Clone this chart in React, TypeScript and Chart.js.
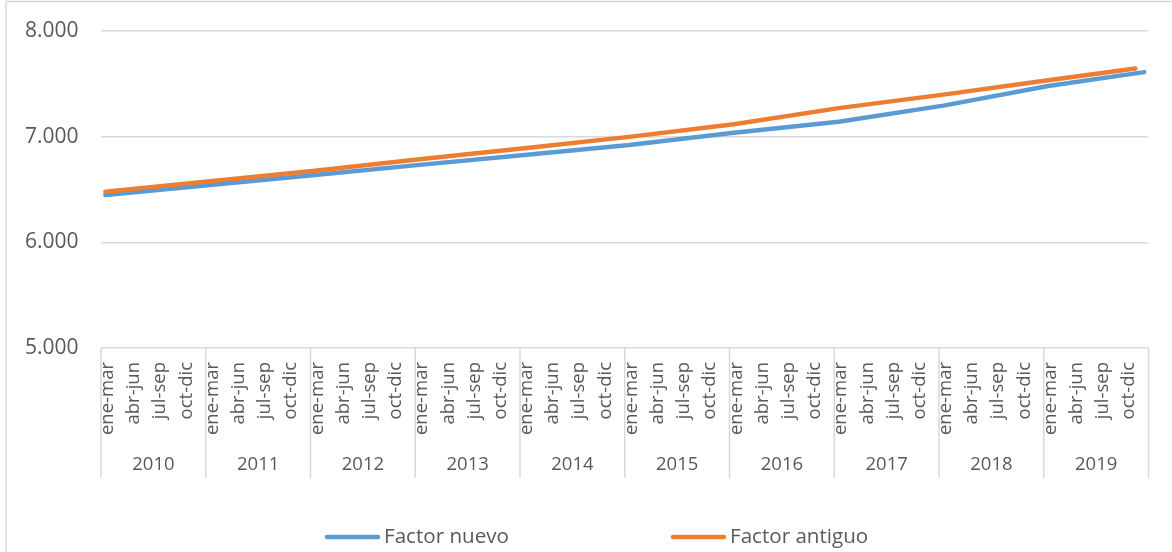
import React, { useEffect, useRef } from "react";
import { Chart, registerables } from "chart.js";

Chart.register(...registerables);

// ---- data ----
const years = ["2010", "2011", "2012", "2013", "2014", "2015", "2016", "2017", "2018", "2019"];
const quarters = ["ene-mar", "abr-jun", "jul-sep", "oct-dic"];
const yTicks = [5000, 6000, 7000, 8000];

// month index (0 = enero 2010) of each sampled point
const monthsNuevo = [0, 12, 24, 36, 48, 60, 72, 84, 96, 108, 119];
const factorNuevo = [6447, 6543, 6638, 6733, 6827, 6921, 7038, 7142, 7294, 7480, 7611];

const monthsAntiguo = [0, 12, 24, 36, 48, 60, 72, 84, 96, 108, 118];
const factorAntiguo = [6479, 6578, 6678, 6787, 6891, 6998, 7118, 7270, 7398, 7533, 7645];

const seriesNames = ["Factor nuevo", "Factor antiguo"];
const seriesColors = ["#5B9BD5", "#ED7D31"];

const FONT = "'Open Sans', sans-serif";
const TEXT = "#595959";
const GRID = "#d9d9d9";

function fmt(v: number): string {
  return String(v).replace(/\B(?=(\d{3})+(?!\d))/g, ".");
}

const axisLabelsPlugin = {
  id: "excelAxis",
  beforeDraw(chart: any) {
    const ctx = chart.ctx;
    ctx.save();
    ctx.strokeStyle = GRID;
    ctx.lineWidth = 1.5;
    ctx.strokeRect(6, 1.5, 1400, 800);
    ctx.restore();
  },
  afterDraw(chart: any) {
    const ctx = chart.ctx;
    const xs = chart.scales.x;
    const area = chart.chartArea;
    const top = area.bottom;
    const sepBottom = top + 130;
    ctx.save();
    // separators
    ctx.strokeStyle = GRID;
    ctx.lineWidth = 1.5;
    for (let y = 0; y <= years.length; y++) {
      const px = xs.getPixelForValue(y * 12);
      ctx.beginPath();
      ctx.moveTo(px, top);
      ctx.lineTo(px, sepBottom);
      ctx.stroke();
    }
    // quarter labels (rotated)
    ctx.fillStyle = TEXT;
    ctx.font = `18.5px ${FONT}`;
    for (let y = 0; y < years.length; y++) {
      for (let q = 0; q < quarters.length; q++) {
        const px = xs.getPixelForValue(y * 12 + q * 3 + 1.5);
        ctx.save();
        ctx.translate(px - 1, top + 14);
        ctx.rotate(-Math.PI / 2);
        ctx.textAlign = "right";
        ctx.textBaseline = "alphabetic";
        ctx.fillText(quarters[q], 0, 0);
        ctx.restore();
      }
    }
    // year labels
    ctx.font = `18.5px ${FONT}`;
    ctx.textAlign = "center";
    ctx.textBaseline = "middle";
    for (let y = 0; y < years.length; y++) {
      const px = xs.getPixelForValue(y * 12 + 6);
      ctx.fillText(years[y], px, top + 117);
    }
    // legend
    const ly = 537;
    const items = [
      { x: 325, name: seriesNames[0], color: seriesColors[0] },
      { x: 671, name: seriesNames[1], color: seriesColors[1] },
    ];
    ctx.font = `20.6px ${FONT}`;
    ctx.textAlign = "left";
    ctx.textBaseline = "middle";
    ctx.lineCap = "round";
    items.forEach((it) => {
      ctx.strokeStyle = it.color;
      ctx.lineWidth = 4.5;
      ctx.beginPath();
      ctx.moveTo(it.x + 2, ly);
      ctx.lineTo(it.x + 53, ly);
      ctx.stroke();
      ctx.fillStyle = TEXT;
      ctx.fillText(it.name, it.x + 59, ly);
    });
    ctx.restore();
  },
};

export default function App() {
  const ref = useRef<HTMLCanvasElement | null>(null);

  useEffect(() => {
    let chart: Chart | null = null;
    let cancelled = false;
    const make = () => {
      if (cancelled || !ref.current) return;
      chart = new Chart(ref.current, {
        type: "line",
        data: {
          datasets: [
            {
              label: seriesNames[0],
              data: monthsNuevo.map((m, i) => ({ x: m + 0.5, y: factorNuevo[i] })),
              borderColor: seriesColors[0],
              backgroundColor: seriesColors[0],
              borderWidth: 4.5,
              pointRadius: 0,
              borderCapStyle: "round",
              borderJoinStyle: "round",
              tension: 0,
              order: 1,
            },
            {
              label: seriesNames[1],
              data: monthsAntiguo.map((m, i) => ({ x: m + 0.5, y: factorAntiguo[i] })),
              borderColor: seriesColors[1],
              backgroundColor: seriesColors[1],
              borderWidth: 4.5,
              pointRadius: 0,
              borderCapStyle: "round",
              borderJoinStyle: "round",
              tension: 0,
              order: 0,
            },
          ],
        },
        options: {
          responsive: false,
          maintainAspectRatio: false,
          animation: false,
          layout: { padding: { top: 31, right: 23.5, bottom: 204, left: 0 } },
          plugins: { legend: { display: false }, tooltip: { enabled: false }, title: { display: false } },
          scales: {
            x: { type: "linear", min: 0, max: 120, display: false },
            y: {
              min: 5000,
              max: 8000,
              afterBuildTicks: (s: any) => {
                s.ticks = yTicks.map((v) => ({ value: v }));
              },
              afterFit: (s: any) => {
                s.width = 101;
                s.paddingTop = 0;
                s.paddingBottom = 0;
              },
              border: { display: false },
              grid: { color: GRID, lineWidth: 1.5, drawTicks: false },
              ticks: {
                padding: 22.5,
                color: TEXT,
                font: { family: FONT, size: 21 },
                callback: (v: any) => fmt(Number(v)),
              },
            },
          },
        },
        plugins: [axisLabelsPlugin],
      });
    };
    const fontsApi: any = (document as any).fonts;
    if (fontsApi && fontsApi.load) {
      Promise.all([fontsApi.load(`21px "Open Sans"`), fontsApi.load(`18.5px "Open Sans"`)])
        .catch(() => null)
        .then(make);
    } else {
      make();
    }
    return () => {
      cancelled = true;
      if (chart) chart.destroy();
    };
  }, []);

  return (
    <div style={{ position: "absolute", left: 0, top: 0, width: 1172, height: 552, background: "#fff", overflow: "hidden" }}>
      <canvas ref={ref} width={1172} height={552} style={{ display: "block" }} />
    </div>
  );
}
